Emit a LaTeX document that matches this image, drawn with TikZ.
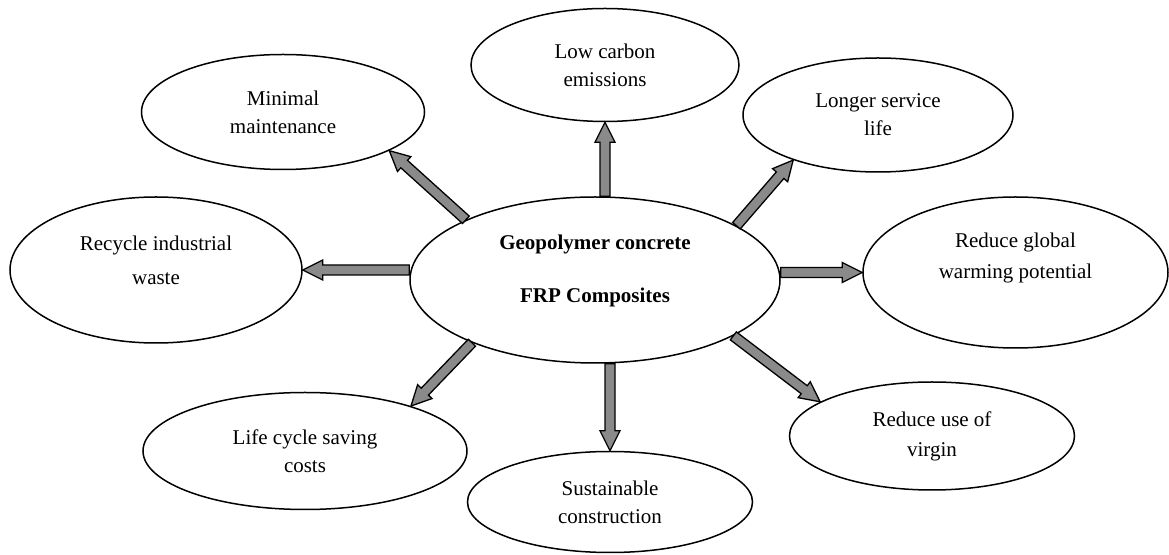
\documentclass[tikz,border=0pt]{standalone}
\usepackage{fontspec}
\setmainfont{Liberation Serif}
\usetikzlibrary{shapes.geometric,calc}
\definecolor{arrowgray}{RGB}{138,138,138}

\tikzset{
  bubtext/.style={align=center, font=\fontsize{10.5}{14}\selectfont},
  bubble/.style={ellipse, draw, line width=0.75pt, inner sep=0pt, bubtext},
  fatarrow/.style={draw=black, fill=arrowgray, line width=0.65pt, line join=miter,
    to path={
      let \p1=($(\tikztotarget)!10pt!(\tikztostart)$) in
      ($(\tikztostart)!2.5pt!90:(\tikztotarget)$) --
      ($(\p1)!2.5pt!-90:(\tikztostart)$) --
      ($(\p1)!5pt!-90:(\tikztostart)$) --
      (\tikztotarget) --
      ($(\p1)!5pt!90:(\tikztostart)$) --
      ($(\p1)!2.5pt!90:(\tikztostart)$) --
      ($(\tikztostart)!2.5pt!-90:(\tikztotarget)$) -- cycle
    }}
}

\begin{document}
\begin{tikzpicture}[x=0.5pt,y=-0.5pt]
\useasboundingbox (0,0) rectangle (1169,555);

% Centre bubble
\node[bubble, minimum width=185pt, minimum height=83pt] (geo) at (595,280) {};
\node[bubtext, font=\fontsize{10.5}{14}\selectfont\bfseries] (geotext) at ([yshift=4.5pt]geo.center)
  {Geopolymer concrete\\[12.5pt]FRP Composites};

% Outer bubbles
\node[bubble, minimum width=134pt, minimum height=56.5pt] (low) at (605,65)
  {Low carbon\\emissions};
\node[bubble, minimum width=141.5pt, minimum height=57.5pt] (mm) at (283,112)
  {Minimal\\maintenance};
\node[bubble, minimum width=135pt, minimum height=57pt] (lsl) at (878,115)
  {Longer service\\life};
\node[bubble, minimum width=152.5pt, minimum height=75.5pt] (rgw) at (1015.5,272.5) {};
\node[bubtext, font=\fontsize{10.5}{15.5}\selectfont] (rgwtext) at ([yshift=7.5pt]rgw.center)
  {Reduce global\\warming potential};
\node[bubble, minimum width=146pt, minimum height=73pt] (rec) at (156,270) {};
\node[bubtext, font=\fontsize{10.5}{17}\selectfont] (rectext) at ([yshift=5pt]rec.center)
  {Recycle industrial\\waste};
\node[bubble, minimum width=162pt, minimum height=58.5pt] (lcs) at (305,451)
  {Life cycle saving\\costs};
\node[bubble, minimum width=142.5pt, minimum height=50.5pt] (sus) at (610,502)
  {Sustainable\\construction};
\node[bubble, minimum width=142.5pt, minimum height=54pt, font=\fontsize{10.5}{15}\selectfont] (ruv) at (932,436)
  {Reduce use of\\virgin};

% Arrow feet on the centre bubble
\coordinate (up0) at (geo.north -| low.south);
\coordinate (dn0) at (geo.south -| sus.north);
\coordinate (rt0) at (geo.east |- rgw.west);
\coordinate (lf0) at (geo.west |- rec.east);

% Arrows
\draw[fatarrow] (up0) to (low.south);
\draw[fatarrow] (dn0) to (sus.north);
\draw[fatarrow] (rt0) to (rgw.west);
\draw[fatarrow] (lf0) to (rec.east);
\draw[fatarrow] (geo.155) to (mm.-20);
\draw[fatarrow] (geo.21) to (lsl.208);
\draw[fatarrow] (geo.207) to (lcs.23);
\draw[fatarrow] (geo.-22) to (ruv.163);

\end{tikzpicture}
\end{document}
